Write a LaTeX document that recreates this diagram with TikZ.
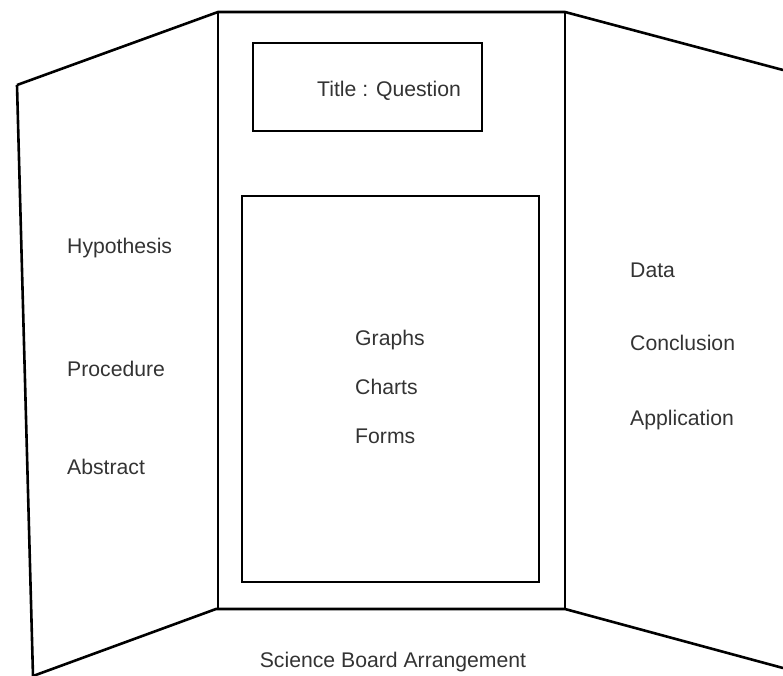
\documentclass[tikz,border=0pt]{standalone}
\usepackage{fontspec}
\setmainfont{Liberation Sans}
\usepackage{tikz}

\begin{document}
\begin{tikzpicture}[x=1pt, y=-1pt, every node/.style={inner sep=0pt, font=\fontsize{21.2}{24}\selectfont, text=black!80}]
\tikzset{board/.style={line width=2.6pt, line join=miter}, label/.style={anchor=base west}}
\useasboundingbox (0,0) rectangle (783,676);
% panels
\draw[board] (17,85) -- (218,12) -- (565,12) -- (783,70);
\draw[board] (17,85) -- (33,676);
\draw[board] (33,676) -- (216,609) -- (565,609) -- (783,668);
\draw[board] (218,12) -- (218,609);
\draw[board] (565,12) -- (565,609);
% title box and display box
\draw[board] (253,43) rectangle (482,131);
\draw[board] (242,196) rectangle (539,582);
\node[anchor=base] (title) at (389,97) {Title : Question};
% left wing
\node[label] (hyp) at (67,253) {Hypothesis};
\node[label] (proc) at (67,376) {Procedure};
\node[label] (abs) at (67,474) {Abstract};
% center
\node[label] (graphs) at (355,345) {Graphs};
\node[label] (charts) at (355,394) {Charts};
\node[label] (forms) at (355,443) {Forms};
% right wing
\node[label] (data) at (630,277) {Data};
\node[label] (concl) at (630,350) {Conclusion};
\node[label] (appl) at (630,425) {Application};
\node[anchor=base] (caption) at (393,667) {Science Board Arrangement};
\end{tikzpicture}
\end{document}
